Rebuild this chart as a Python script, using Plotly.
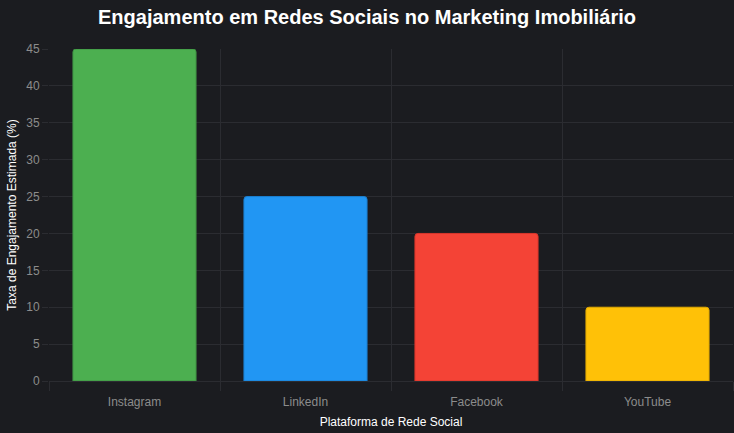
import plotly.graph_objects as go

platforms = ["Instagram", "LinkedIn", "Facebook", "YouTube"]
engagement = [45, 25, 20, 10]
fill_colors = ["#4CAF50", "#2196F3", "#F44336", "#FFC107"]
border_colors = ["#3E9142", "#1B7FCF", "#D9362B", "#E0A800"]

BG = "#1b1c20"
GRID = "#2b2c31"
FONT = "Liberation Sans, Arial, sans-serif"

fig = go.Figure(
    go.Bar(
        x=platforms,
        y=engagement,
        marker=dict(color=fill_colors, line=dict(color=border_colors, width=1)),
        width=0.72,
        hoverinfo="x+y",
    )
)

fig.update_layout(
    width=734,
    height=433,
    paper_bgcolor=BG,
    plot_bgcolor=BG,
    margin=dict(l=49, r=1, t=49, b=52, autoexpand=False),
    barcornerradius=3,
    showlegend=False,
    font=dict(family=FONT, color="#8c8c8c", size=12),
    title=dict(
        text="<b>Engajamento em Redes Sociais no Marketing Imobiliário</b>",
        font=dict(family=FONT, size=20, color="#ffffff"),
        x=0.5,
        xanchor="center",
        xref="container",
        y=1 - 17 / 433,
        yref="container",
        yanchor="middle",
    ),
)

fig.update_xaxes(
    type="category",
    range=[-0.5, 3.5],
    tickson="boundaries",
    showgrid=True,
    gridcolor=GRID,
    gridwidth=1,
    ticks="outside",
    ticklen=9,
    tickcolor=GRID,
    ticklabelstandoff=12,
    tickfont=dict(family=FONT, size=12, color="#8c8c8c"),
    showline=False,
    zeroline=False,
    automargin=False,
    title=dict(
        text="Plataforma de Rede Social",
        font=dict(family=FONT, size=12, color="#ffffff"),
        standoff=9,
    ),
)

fig.update_yaxes(
    range=[0, 45],
    dtick=5,
    showgrid=True,
    gridcolor=GRID,
    gridwidth=1,
    ticks="outside",
    ticklen=6,
    tickcolor=GRID,
    tickfont=dict(family=FONT, size=12, color="#8c8c8c"),
    zeroline=True,
    zerolinecolor=GRID,
    zerolinewidth=1,
    showline=False,
    automargin=False,
    title=dict(
        text="Taxa de Engajamento Estimada (%)",
        font=dict(family=FONT, size=12, color="#ffffff"),
        standoff=7,
    ),
)

fig.write_html(
    "out.html",
    config={"displayModeBar": False},
    post_script="document.body.style.margin='0';document.body.style.overflow='hidden';document.body.style.background='#1b1c20';",
)
